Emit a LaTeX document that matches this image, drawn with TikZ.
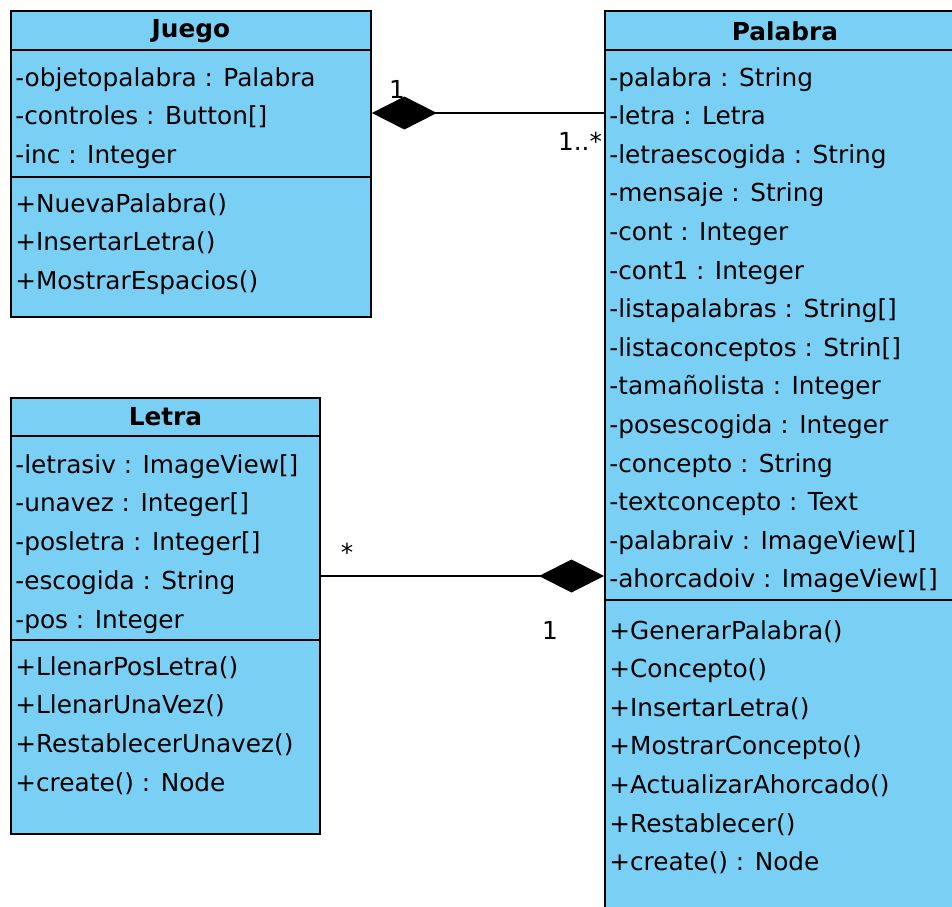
\documentclass[tikz,border=0pt]{standalone}
\usepackage{fontspec}
\setmainfont{DejaVu Sans}
\usetikzlibrary{arrows.meta}
\definecolor{umlblue}{RGB}{122,207,245}
\begin{document}
\begin{tikzpicture}[x=0.02cm,y=-0.02cm,
				classbox/.style={draw,fill=umlblue,line width=1.1pt,anchor=north west,inner sep=0pt},
				head/.style={inner sep=0pt,font=\fontsize{14.1}{17}\selectfont\bfseries},
				member/.style={anchor=base west,inner sep=0pt,font=\fontsize{14.1}{17}\selectfont},
				mult/.style={anchor=base,inner sep=0pt,font=\fontsize{14.1}{17}\selectfont},
				divider/.style={line width=1.1pt},
				comp/.style={line width=0.85pt,-{Diamond[length=1.3cm,width=0.66cm]}}]
				\useasboundingbox (0,0) rectangle (952,906);
				\clip (0,0) rectangle (952,906);
				\node [classbox,minimum width=7.2cm,minimum height=6.12cm]		(juego)		at (10,10)	{};
				\node [classbox,minimum width=6.18cm,minimum height=8.72cm]	(letra)		at (10,397)	{};
				\node [classbox,minimum width=7.3cm,minimum height=18.4cm]		(palabra)	at (604,10)	{};
				\node [head] (juegoname)	at (juego.north |- 0,31)	{Juego};
				\node [head] (letraname)	at (letra.north |- 0,417)	{Letra};
				\node [head] (palabraname)	at (785,31)				{Palabra};
				\draw [divider] (juego.west |- 0,50) -- (juego.east |- 0,50);
				\draw [divider] (juego.west |- 0,177) -- (juego.east |- 0,177);
				\draw [divider] (letra.west |- 0,436) -- (letra.east |- 0,436);
				\draw [divider] (letra.west |- 0,640) -- (letra.east |- 0,640);
				\draw [divider] (palabra.west |- 0,50) -- (palabra.east |- 0,50);
				\draw [divider] (palabra.west |- 0,600) -- (palabra.east |- 0,600);
				\foreach \txt [count=\i from 0] in {-objetopalabra : Palabra,-controles : Button[],-inc : Integer}
					\node [member] (juego-a\i) at (15,{86+38.8*\i}) {\txt};
				\foreach \txt [count=\i from 0] in {+NuevaPalabra(),+InsertarLetra(),+MostrarEspacios()}
					\node [member] (juego-m\i) at (15,{212+38.8*\i}) {\txt};
				\foreach \txt [count=\i from 0] in {-letrasiv : ImageView[],-unavez : Integer[],-posletra : Integer[],-escogida : String,-pos : Integer}
					\node [member] (letra-a\i) at (15,{473+38.8*\i}) {\txt};
				\foreach \txt [count=\i from 0] in {+LlenarPosLetra(),+LlenarUnaVez(),+RestablecerUnavez(),+create() : Node}
					\node [member] (letra-m\i) at (15,{675+38.8*\i}) {\txt};
				\foreach \txt [count=\i from 0] in {-palabra : String,-letra : Letra,-letraescogida : String,-mensaje : String,-cont : Integer,-cont1 : Integer,-listapalabras : String[],-listaconceptos : Strin[],-tamañolista : Integer,-posescogida : Integer,-concepto : String,-textconcepto : Text,-palabraiv : ImageView[],-ahorcadoiv : ImageView[]}
					\node [member] (palabra-a\i) at (609,{86+38.6*\i}) {\txt};
				\foreach \txt [count=\i from 0] in {+GenerarPalabra(),+Concepto(),+InsertarLetra(),+MostrarConcepto(),+ActualizarAhorcado(),+Restablecer(),+create() : Node}
					\node [member] (palabra-m\i) at (609,{639+38.6*\i}) {\txt};
				\draw [comp] (palabra.west |- 0,113) -- (juego.east |- 0,113);
				\draw [comp] (letra.east |- 0,576) -- (palabra.west |- 0,576);
				\node [mult] (m-juego)		at (397,98)		{1};
				\node [mult] (m-palabra)	at (580,150)	{1..*};
				\node [mult] (m-letra)		at (347,561)	{*};
				\node [mult] (m-palabra2)	at (550,639)	{1};
\end{tikzpicture}
\end{document}
